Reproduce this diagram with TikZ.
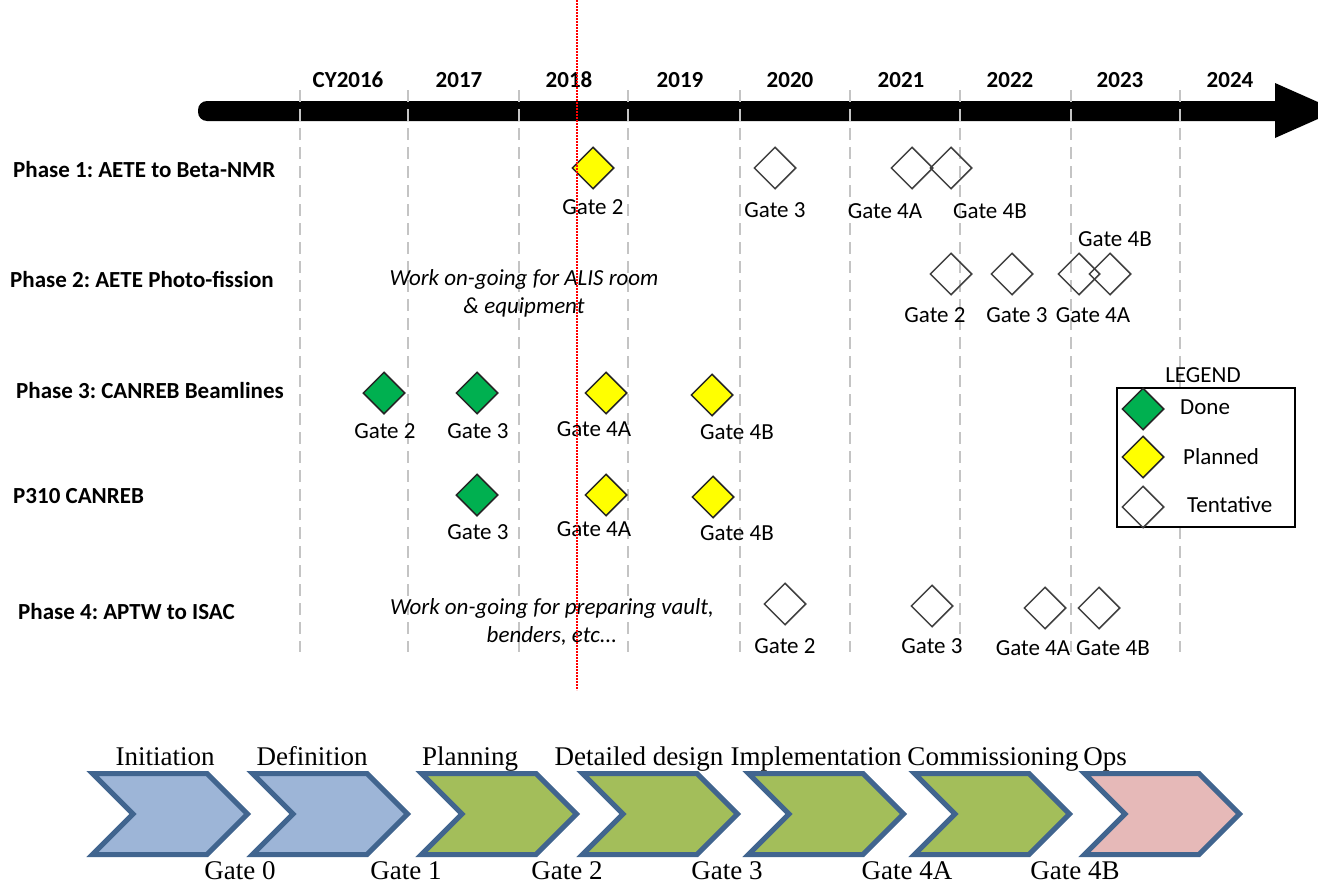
\documentclass[tikz,border=0pt]{standalone}
\usepackage{fontspec}
\setmainfont{Carlito}
\newfontfamily\stagefont{Liberation Serif}
\usetikzlibrary{shapes.geometric,shapes.symbols}
\frenchspacing

\definecolor{donegreen}{HTML}{00B050}
\definecolor{planyellow}{HTML}{FFFF00}
\definecolor{chevblue}{HTML}{9DB5D7}
\definecolor{chevgreen}{HTML}{A3BE5A}
\definecolor{chevpink}{HTML}{E6B9B8}
\definecolor{chevedge}{HTML}{41658F}
\definecolor{yeargray}{HTML}{C4C4C4}

\tikzset{
  gate/.style={shape=diamond,draw=black!85,line width=1.5pt,inner sep=0pt,minimum width=42pt,minimum height=42pt},
  done/.style={gate,fill=donegreen},
  planned/.style={gate,fill=planyellow},
  tentative/.style={gate,draw=black!75},
  glabel/.style={font=\fontsize{23}{27}\selectfont,inner sep=0pt},
  yearlabel/.style={font=\bfseries\fontsize{23}{27}\selectfont,inner sep=0pt,anchor=base},
  phaselabel/.style={font=\bfseries\fontsize{23}{27}\selectfont,inner sep=0pt,anchor=base west},
  worknote/.style={font=\itshape\fontsize{23}{28}\selectfont,align=center,inner sep=0pt},
  chev/.style={shape=signal,signal to=east,signal from=west,draw=chevedge,line width=5pt,
    minimum width=155pt,minimum height=81pt,signal pointer angle=90,inner sep=0pt},
  stagelabel/.style={font=\stagefont\fontsize{27}{30}\selectfont,inner sep=0pt,anchor=base},
  yearline/.style={draw=yeargray,line width=1.5pt,dash pattern=on 12pt off 7pt},
}

\begin{document}
\begin{tikzpicture}[x=1pt,y=-1pt]
	\useasboundingbox (0,0) rectangle (1318,886);
	\clip (0,0) rectangle (1318,886);

	% timeline arrow
	\fill[black,rounded corners=9pt] (198,101) rectangle (1285,121);
	\fill[black] (1275,101) -- (1275,83) -- (1337,110.5) -- (1275,138) -- (1275,121) -- cycle;

	% year separators
	\draw[yearline] (300,90) -- (300,652);
	\draw[yearline] (408,90) -- (408,652);
	\draw[yearline] (519,90) -- (519,652);
	\draw[yearline] (628,90) -- (628,652);
	\draw[yearline] (740,90) -- (740,652);
	\draw[yearline] (850,90) -- (850,652);
	\draw[yearline] (960,90) -- (960,652);
	\draw[yearline] (1071,90) -- (1071,652);
	\draw[yearline] (1180,90) -- (1180,652);

	\node[yearlabel] (y16) at (348,87) {CY2016};
	\node[yearlabel] (y17) at (459,87) {2017};
	\node[yearlabel] (y18) at (569,87) {2018};
	\node[yearlabel] (y19) at (680,87) {2019};
	\node[yearlabel] (y20) at (790,87) {2020};
	\node[yearlabel] (y21) at (901,87) {2021};
	\node[yearlabel] (y22) at (1010,87) {2022};
	\node[yearlabel] (y23) at (1120,87) {2023};
	\node[yearlabel] (y24) at (1230,87) {2024};

	% phase names
	\node[phaselabel] (ph1) at (13,177) {Phase 1: AETE to Beta-NMR};
	\node[phaselabel] (ph2) at (10,287) {Phase 2: AETE Photo-fission};
	\node[phaselabel] (ph3) at (16,398) {Phase 3: CANREB Beamlines};
	\node[phaselabel] (p310) at (13,503) {P310 CANREB};
	\node[phaselabel] (ph4) at (18,619) {Phase 4: APTW to ISAC};

	% phase 1
	\node[planned] (a2) at (593,168) {};
	\node[glabel] (a2l) at (593,207) {Gate 2};
	\node[tentative] (a3) at (775,168) {};
	\node[glabel] (a3l) at (775,210) {Gate 3};
	\node[tentative] (a4a) at (912,168) {};
	\node[tentative] (a4b) at (951,168) {};
	\node[glabel] (a4al) at (885,211) {Gate 4A};
	\node[glabel] (a4bl) at (990,211) {Gate 4B};

	% phase 2
	\node[worknote] (b0) at (524,293) {Work on-going for ALIS room\\\& equipment};
	\node[tentative] (b2) at (951,274) {};
	\node[glabel] (b2l) at (935,315) {Gate 2};
	\node[tentative] (b3) at (1012,274) {};
	\node[glabel] (b3l) at (1017,315) {Gate 3};
	\node[tentative] (b4a) at (1079,274) {};
	\node[tentative] (b4b) at (1110,274) {};
	\node[glabel] (b4al) at (1093,315) {Gate 4A};
	\node[glabel] (b4bl) at (1115,239) {Gate 4B};

	% phase 3
	\node[done] (c2) at (384,393) {};
	\node[glabel] (c2l) at (385,431) {Gate 2};
	\node[done] (c3) at (477,393) {};
	\node[glabel] (c3l) at (478,431) {Gate 3};
	\node[planned] (c4a) at (606,393) {};
	\node[glabel] (c4al) at (594,429) {Gate 4A};
	\node[planned] (c4b) at (712,395) {};
	\node[glabel] (c4bl) at (737,432) {Gate 4B};

	% P310
	\node[done] (d3) at (477,495) {};
	\node[glabel] (d3l) at (478,532) {Gate 3};
	\node[planned] (d4a) at (606,495) {};
	\node[glabel] (d4al) at (594,529) {Gate 4A};
	\node[planned] (d4b) at (713,497) {};
	\node[glabel] (d4bl) at (737,533) {Gate 4B};

	% phase 4
	\node[worknote] (e0) at (552,622) {Work on-going for preparing vault,\\benders, etc...};
	\node[tentative] (e2) at (785,604) {};
	\node[glabel] (e2l) at (785,646) {Gate 2};
	\node[tentative] (e3) at (932,606) {};
	\node[glabel] (e3l) at (932,646) {Gate 3};
	\node[tentative] (e4a) at (1045,608) {};
	\node[glabel] (e4al) at (1033,648) {Gate 4A};
	\node[tentative] (e4b) at (1099,608) {};
	\node[glabel] (e4bl) at (1113,648) {Gate 4B};

	% legend
	\node[glabel] (leg) at (1203,375) {LEGEND};
	\draw[black,line width=1.5pt,fill=white] (1117,388) rectangle (1295,527);
	\node[done] (ldone) at (1143,409) {};
	\node[glabel,anchor=west] (ldonel) at (1180,407) {Done};
	\node[planned] (lplan) at (1143,457) {};
	\node[glabel,anchor=west] (lplanl) at (1183,457) {Planned};
	\node[tentative] (ltent) at (1143,507) {};
	\node[glabel,anchor=west] (ltentl) at (1187,505) {Tentative};

	% project stages
	\node[chev,fill=chevblue] (s1) at (170,814) {};
	\node[chev,fill=chevblue] (s2) at (330,814) {};
	\node[chev,fill=chevgreen] (s3) at (499,814) {};
	\node[chev,fill=chevgreen] (s4) at (660,814) {};
	\node[chev,fill=chevgreen] (s5) at (826,814) {};
	\node[chev,fill=chevgreen] (s6) at (992,814) {};
	\node[chev,fill=chevpink] (s7) at (1162,814) {};

	\node[stagelabel] (s1l) at (165,765) {Initiation};
	\node[stagelabel] (s2l) at (312,765) {Definition};
	\node[stagelabel] (s3l) at (470,765) {Planning};
	\node[stagelabel] (s4l) at (639,765) {Detailed design};
	\node[stagelabel] (s5l) at (816,765) {Implementation};
	\node[stagelabel] (s6l) at (993,765) {Commissioning};
	\node[stagelabel] (s7l) at (1105,765) {Ops};

	\node[stagelabel] (g0) at (240,879) {Gate 0};
	\node[stagelabel] (g1) at (406,879) {Gate 1};
	\node[stagelabel] (g2) at (567,879) {Gate 2};
	\node[stagelabel] (g3) at (727,879) {Gate 3};
	\node[stagelabel] (g4a) at (907,879) {Gate 4A};
	\node[stagelabel] (g4b) at (1075,879) {Gate 4B};

	% today marker
	\draw[red,line width=1.2pt,dash pattern=on 2pt off 1pt] (577,0) -- (577,690);
\end{tikzpicture}
\end{document}
